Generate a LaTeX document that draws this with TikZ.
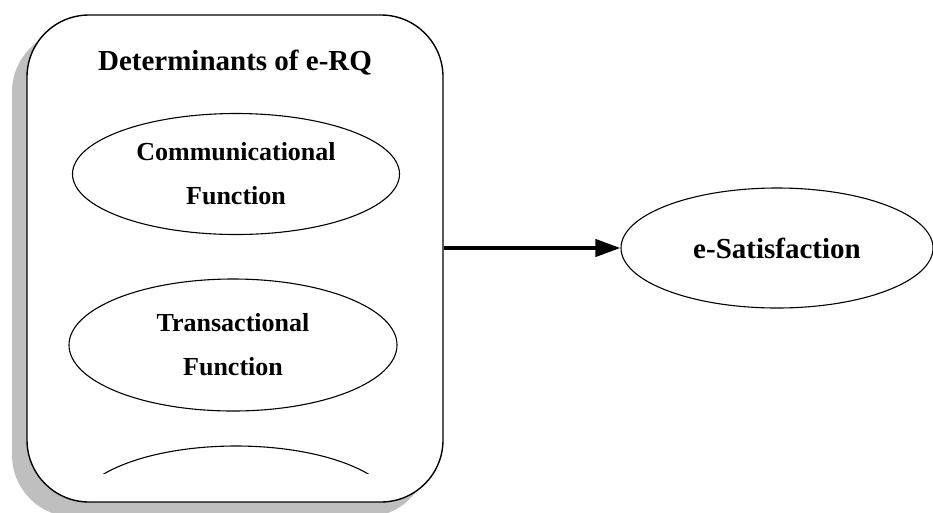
\documentclass[tikz,border=0pt]{standalone}
\usepackage{fontspec}
\setmainfont{Liberation Serif}
\usetikzlibrary{shapes.geometric,arrows.meta}
\begin{document}
\begin{tikzpicture}
[x=1pt,y=-1pt,
  shadowdecorate/.style={shape=rectangle,rounded corners=62pt,fill=black!25,minimum width=416pt,minimum height=487pt,inner sep=0pt},%
  boxdecorate/.style={shape=rectangle,rounded corners=62pt,draw,line width=1.4pt,fill=white,minimum width=416pt,minimum height=487pt,inner sep=0pt},%
  ovaldecorate/.style={shape=ellipse,draw,line width=1.1pt,inner sep=0pt,align=center,font=\bfseries\fontsize{26}{44}\selectfont},%
  linedecorate/.style={-{Triangle[length=25pt,width=17pt]},line width=4pt}]
\useasboundingbox (0,0) rectangle (933,512);
%%% determinants box
% box with its shadow
\node (shadow) at (220,273.5) [shadowdecorate] {};
\node (box) at (235,258.5) [boxdecorate] {};
\node (title) at (235,63) [font=\bfseries\fontsize{29}{34}\selectfont] {Determinants of e-RQ};
% functions
\node (comm) at (236,174) [ovaldecorate,minimum width=327pt,minimum height=121pt] {Communicational\\Function};
\node (trans) at (233,345) [ovaldecorate,minimum width=328pt,minimum height=132pt] {Transactional\\Function};
\begin{scope}
\clip (0,0) rectangle (933,473);
\node (third) at (236,509) [ovaldecorate,minimum width=318pt,minimum height=126pt] {};
\end{scope}
%
%%% outcome
\node (sat) at (777,248) [ovaldecorate,minimum width=312pt,minimum height=120pt,font=\bfseries\fontsize{29}{34}\selectfont] {e-Satisfaction};
% arrow
\path
(sat.west -| box.east) edge[linedecorate] (sat.west);
\end{tikzpicture}
\end{document}
